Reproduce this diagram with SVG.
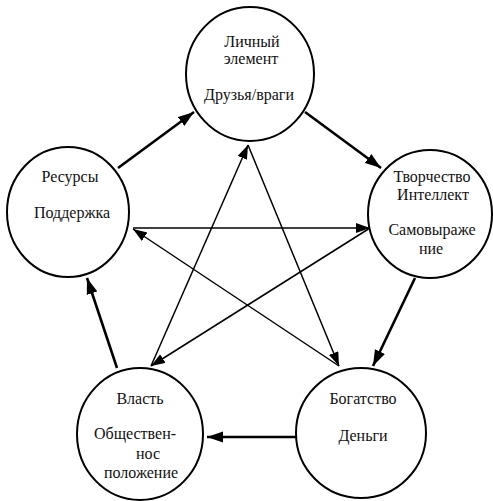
<svg xmlns="http://www.w3.org/2000/svg" width="493" height="501" viewBox="0 0 493 501">
<style>
.node ellipse{fill:#fff;stroke:#000;stroke-width:2}
.node text{font-family:"Liberation Serif","Times New Roman",serif;font-size:16px;fill:#111;text-anchor:middle}
.thick{stroke:#000;stroke-width:2.6;fill:none;marker-end:url(#ah)}
.thin{stroke:#000;stroke-width:1.5;fill:none;marker-end:url(#ah2)}
</style>
<defs>
<marker id="ah" markerUnits="userSpaceOnUse" markerWidth="17" markerHeight="12" refX="16" refY="6" orient="auto">
<path d="M0,0.5 L16,6 L0,11.5 z" fill="#000"/>
</marker>
<marker id="ah2" markerUnits="userSpaceOnUse" markerWidth="15" markerHeight="11" refX="14" refY="5" orient="auto">
<path d="M0,0 L14,5 L0,10 z" fill="#000"/>
</marker>
</defs>
<rect width="493" height="501" fill="#fff"/>
<g id="connectors">
<line class="thick" x1="118" y1="168" x2="194" y2="112"/>
<line class="thick" x1="305" y1="112" x2="381" y2="168"/>
<line class="thick" x1="415" y1="278" x2="373" y2="366"/>
<line class="thick" x1="296" y1="437" x2="207" y2="437"/>
<line class="thick" x1="117" y1="368" x2="87" y2="278"/>
<line class="thin" x1="151" y1="366" x2="248" y2="145"/>
<line class="thin" x1="248" y1="145" x2="339" y2="366"/>
<line class="thin" x1="339" y1="366" x2="133" y2="229"/>
<line class="thin" x1="133" y1="228" x2="370" y2="228"/>
<line class="thin" x1="370" y1="228" x2="151" y2="366"/>
</g>
<g id="node-top" class="node">
<ellipse cx="250" cy="74" rx="64" ry="67"/>
<text x="252" y="47">Личный</text>
<text x="251" y="64">элемент</text>
<text x="249" y="100">Друзья/враги</text>
</g>
<g id="node-right" class="node">
<ellipse cx="430" cy="214" rx="62" ry="64"/>
<text x="432" y="182">Творчество</text>
<text x="433" y="200">Интеллект</text>
<text x="432" y="235">Самовыраже</text>
<text x="431" y="254">ние</text>
</g>
<g id="node-left" class="node">
<ellipse cx="68" cy="212" rx="61" ry="65"/>
<text x="70" y="182">Ресурсы</text>
<text x="72" y="218">Поддержка</text>
</g>
<g id="node-bottom-left" class="node">
<ellipse cx="140" cy="434" rx="63" ry="66"/>
<text x="140" y="404">Власть</text>
<text x="135" y="439">Обществен-</text>
<text x="148" y="459">нос</text>
<text x="141" y="478">положение</text>
</g>
<g id="node-bottom-right" class="node">
<ellipse cx="361" cy="433" rx="65" ry="65"/>
<text x="363" y="404">Богатство</text>
<text x="363" y="441">Деньги</text>
</g>
</svg>
